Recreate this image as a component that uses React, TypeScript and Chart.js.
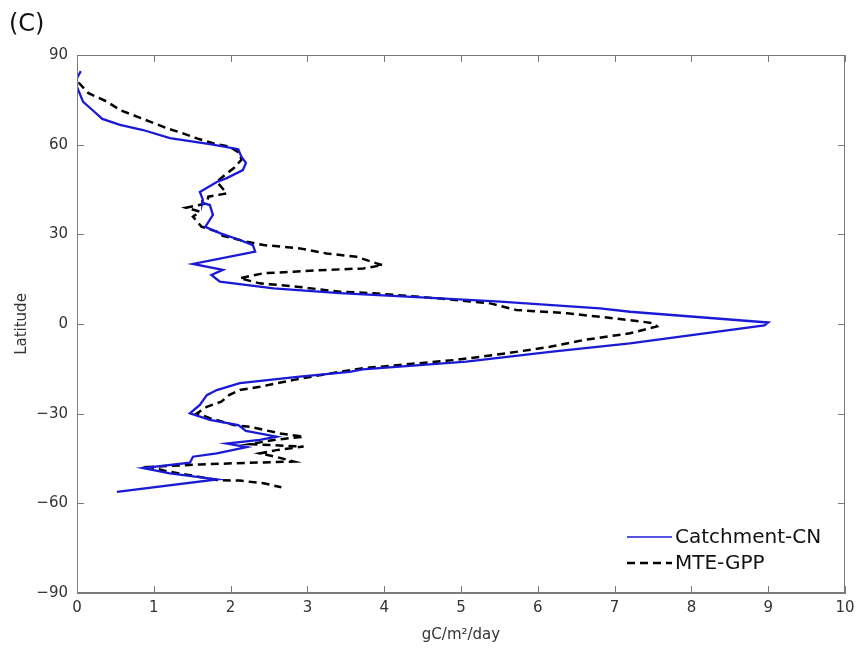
import React, { useEffect, useRef } from "react";
import { Chart, registerables } from "chart.js";

Chart.register(...registerables);

const xTicks = [0, 1, 2, 3, 4, 5, 6, 7, 8, 9, 10];
const yTicks = [-90, -60, -30, 0, 30, 60, 90];

const catchLat = [
  84.6, 82.3, 79.3, 74.3, 71.6, 68.6, 66.6, 64.9, 62.2, 60.2, 58.5, 56.0, 53.9, 51.5, 48.8, 47.5,
  44.2, 41.5, 40.5, 39.8, 36.5, 32.5, 30.4, 28.1, 26.4, 24.2, 20.1, 18.1, 16.4, 14.2, 11.9, 10.3,
  8.6, 7.5, 5.2, 4.1, 0.5, -0.5, -6.5, -9.3, -12.6, -15.2, -16.0, -17.6, -19.8, -22.1, -23.8,
  -27.1, -29.9, -32.1, -33.8, -35.8, -37.7, -38.8, -40.0, -41.2, -43.3, -44.4, -46.4, -48.2,
  -50.0, -52.0, -56.2,
];
const catchVal = [
  0.05, 0.0, 0.0, 0.08, 0.2, 0.33, 0.56, 0.86, 1.21, 1.73, 2.1, 2.14, 2.2, 2.16, 1.95, 1.82,
  1.6, 1.64, 1.63, 1.73, 1.77, 1.67, 1.86, 2.12, 2.29, 2.32, 1.51, 1.9, 1.75, 1.86, 2.56, 3.42,
  4.73, 5.51, 6.81, 7.2, 9.0, 8.95, 7.2, 6.16, 5.07, 3.72, 3.55, 2.9, 2.12, 1.82, 1.69,
  1.6, 1.47, 1.73, 2.1, 2.2, 2.6, 2.38, 1.95, 2.21, 1.82, 1.51, 1.47, 0.86,
  1.21, 1.82, 0.52,
];

const mteLat = [
  80.8, 77.2, 74.4, 71.6, 69.4, 67.7, 65.5, 63.8, 62.1, 60.4, 59.3, 57.1, 54.9, 52.1, 50.4, 47.6,
  43.7, 42.6, 40.4, 38.9, 37.6, 35.9, 32.6, 30.9, 29.5, 27.6, 26.4, 25.3, 23.6, 22.5, 20.3, 19.7,
  18.6, 18.1, 17.5, 17.0, 15.3, 13.6, 12.5, 10.8, 10.3, 8.7, 6.9, 4.7, 3.6, 1.3, 0.3, -0.8,
  -3.1, -5.4, -7.6, -9.8, -12.0, -13.7, -14.8, -16.0, -18.7, -21.0, -22.1, -23.8, -26.0, -27.7,
  -29.9, -31.5, -33.8, -34.4, -36.6, -37.7, -38.8, -40.2, -41.0, -42.2, -43.3, -44.5, -46.0,
  -46.6, -47.0, -47.8, -49.3, -50.4, -52.2, -52.4, -53.3, -54.6,
];
const mteVal = [
  0.02, 0.15, 0.39, 0.56, 0.78, 0.95, 1.17, 1.38, 1.56, 1.78, 1.99, 2.12, 2.14, 2.04, 1.95, 1.82,
  1.95, 1.71, 1.69, 1.42, 1.6, 1.51, 1.62, 1.82, 1.9, 2.2, 2.43, 2.9, 3.25, 3.64, 3.9, 3.98,
  3.73, 3.25, 2.82, 2.43, 2.12, 2.38, 2.86, 3.42, 3.86, 4.64, 5.38, 5.72, 6.38, 7.2, 7.5, 7.55,
  7.2, 6.59, 6.16, 5.6, 4.94, 4.2, 3.72, 3.42, 2.82, 2.38, 2.12, 1.98, 1.88, 1.69,
  1.56, 1.73, 2.04, 2.25, 2.64, 2.95, 2.56, 2.25, 2.95, 2.6, 2.38, 2.6, 2.82,
  2.04, 1.6, 0.95, 1.17, 1.43, 1.82, 2.12, 2.43, 2.66,
];

const seriesNames = ["Catchment-CN", "MTE-GPP"];
const FONT = "'DejaVu Sans', sans-serif";
const AXIS_COLOR = "#7a7a7a";
const TEXT_COLOR = "#333333";

const decor = {
  id: "decor",
  afterDraw(chart: any) {
    const ctx = chart.ctx;
    const { left, right, top, bottom } = chart.chartArea;
    const xs = chart.scales.x;
    const ys = chart.scales.y;
    ctx.save();
    ctx.strokeStyle = AXIS_COLOR;
    ctx.lineWidth = 1;
    ctx.strokeRect(left + 0.5, top + 0.5, right - left - 1, bottom - top - 1);
    const tl = 7;
    ctx.beginPath();
    xs.ticks.forEach((t: any) => {
      const px = Math.round(xs.getPixelForValue(t.value)) + 0.5;
      ctx.moveTo(px, bottom);
      ctx.lineTo(px, bottom - tl);
      ctx.moveTo(px, top);
      ctx.lineTo(px, top + tl);
    });
    ys.ticks.forEach((t: any) => {
      const py = Math.round(ys.getPixelForValue(t.value)) + 0.5;
      ctx.moveTo(left, py);
      ctx.lineTo(left + tl, py);
      ctx.moveTo(right, py);
      ctx.lineTo(right - tl, py);
    });
    ctx.stroke();

    // panel label
    ctx.fillStyle = "#111";
    ctx.font = `24px ${FONT}`;
    ctx.textAlign = "left";
    ctx.textBaseline = "middle";
    ctx.fillText("(C)", 9, 25);

    // legend
    const ds = chart.data.datasets;
    const lx0 = 627;
    const lx1 = 672;
    const rows = [537, 563];
    ctx.font = `20px ${FONT}`;
    ds.forEach((d: any, i: number) => {
      ctx.beginPath();
      ctx.strokeStyle = d.borderColor;
      ctx.lineWidth = i === 0 ? 1.6 : d.borderWidth;
      ctx.setLineDash(d.borderDash || []);
      ctx.moveTo(lx0, rows[i]);
      ctx.lineTo(lx1, rows[i]);
      ctx.stroke();
      ctx.setLineDash([]);
      ctx.fillStyle = "#111";
      ctx.fillText(d.label, lx1 + 3, rows[i] + 1);
    });
    ctx.restore();
  },
};

const fmt = (v: any) => String(v).replace("-", "\u2212");

export default function App() {
  const ref = useRef<HTMLCanvasElement>(null);
  useEffect(() => {
    document.body.style.margin = "0";
    const catchData = catchLat.map((lat, i) => ({ x: catchVal[i], y: lat }));
    const mteData = mteLat.map((lat, i) => ({ x: mteVal[i], y: lat }));
    const chart = new Chart(ref.current as HTMLCanvasElement, {
      type: "scatter",
      data: {
        datasets: [
          {
            label: seriesNames[0],
            data: catchData,
            showLine: true,
            borderColor: "#1a1ad6",
            backgroundColor: "#1a1ad6",
            borderWidth: 2.3,
            pointRadius: 0,
            tension: 0,
          },
          {
            label: seriesNames[1],
            data: mteData,
            showLine: true,
            borderColor: "#000000",
            backgroundColor: "#000000",
            borderWidth: 2.5,
            borderDash: [8, 5],
            pointRadius: 0,
            tension: 0,
          },
        ],
      },
      options: {
        responsive: false,
        animation: false,
        layout: { padding: { top: 55, right: 12, left: 0, bottom: 0 } },
        plugins: { legend: { display: false }, tooltip: { enabled: false } },
        scales: {
          x: {
            type: "linear",
            min: 0,
            max: 10,
            afterBuildTicks: (s: any) => {
              s.ticks = xTicks.map((v) => ({ value: v }));
            },
            afterFit: (s: any) => {
              s.height = 59;
              s.paddingRight = 0;
              s.paddingLeft = 0;
            },
            grid: { drawOnChartArea: false, drawTicks: false, color: AXIS_COLOR },
            border: { display: true, color: AXIS_COLOR },
            ticks: {
              padding: 6,
              color: TEXT_COLOR,
              font: { family: FONT, size: 15 },
              callback: (v: any) => fmt(v),
            },
            title: {
              display: true,
              text: "gC/m²/day",
              color: TEXT_COLOR,
              font: { family: FONT, size: 15 },
              padding: { top: 2, bottom: 8 },
            },
          },
          y: {
            type: "linear",
            min: -90,
            max: 90,
            afterBuildTicks: (s: any) => {
              s.ticks = yTicks.map((v) => ({ value: v }));
            },
            afterFit: (s: any) => {
              s.width = 77;
              s.paddingTop = 0;
              s.paddingBottom = 0;
            },
            grid: { drawOnChartArea: false, drawTicks: false, color: AXIS_COLOR },
            border: { display: true, color: AXIS_COLOR },
            ticks: {
              padding: 9,
              color: TEXT_COLOR,
              font: { family: FONT, size: 15 },
              callback: (v: any) => fmt(v),
            },
            title: {
              display: true,
              text: "Latitude",
              color: TEXT_COLOR,
              font: { family: FONT, size: 15 },
              padding: { top: 13, bottom: 0 },
            },
          },
        },
      },
      plugins: [decor],
    });
    return () => chart.destroy();
  }, []);
  return <canvas ref={ref} width={857} height={652} />;
}
